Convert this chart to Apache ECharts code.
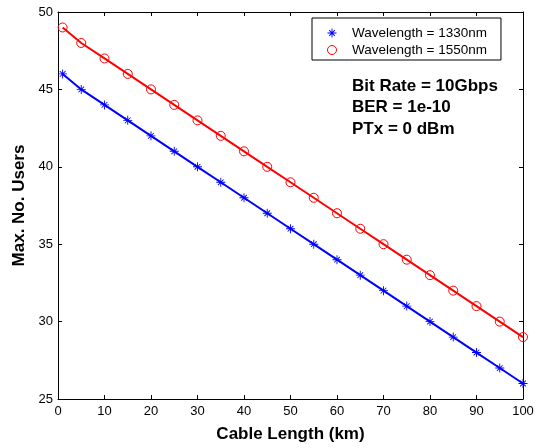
<!DOCTYPE html>
<html>
<head>
<meta charset="utf-8">
<script src="https://cdn.jsdelivr.net/npm/echarts@6/dist/echarts.min.js"></script>
<style>html,body{margin:0;padding:0;background:#fff;}#c{width:537px;height:448px;}</style>
</head>
<body>
<div id="c"></div>
<script>
var cableLength = [1, 5, 10, 15, 20, 25, 30, 35, 40, 45, 50, 55, 60, 65, 70, 75, 80, 85, 90, 95, 100];
var users1330 = [46, 45, 44, 43, 42, 41, 40, 39, 38, 37, 36, 35, 34, 33, 32, 31, 30, 29, 28, 27, 26];
var users1550 = [49, 48, 47, 46, 45, 44, 43, 42, 41, 40, 39, 38, 37, 36, 35, 34, 33, 32, 31, 30, 29];
var seriesNames = ['Wavelength = 1330nm', 'Wavelength = 1550nm'];
var annotationLines = ['Bit Rate = 10Gbps', 'BER = 1e-10', 'PTx = 0 dBm'];
var xTitle = 'Cable Length (km)';
var yTitle = 'Max. No. Users';

var FONT = '"Liberation Sans", Arial, Helvetica, sans-serif';
var STAR = 'path://M4.5 0L5.5 0L5.5 10L4.5 10Z M0 4.5L10 4.5L10 5.5L0 5.5Z M1.5 2.2L2.2 1.5L8.5 7.8L7.8 8.5Z M7.8 1.5L8.5 2.2L2.2 8.5L1.5 7.8Z';

function pairs(xs, ys) { return xs.map(function (x, i) { return [x, ys[i]]; }); }

var chart = echarts.init(document.getElementById('c'), null, { renderer: 'canvas' });
var axisCommon = {
  axisLine: { show: true, onZero: false, lineStyle: { color: '#000', width: 1 } },
  axisTick: { show: true, inside: true, length: 4, lineStyle: { color: '#000' } },
  splitLine: { show: false }
};
chart.setOption({
  animation: false,
  backgroundColor: '#fff',
  grid: { left: 58, right: 14, top: 12, bottom: 48, containLabel: false },
  xAxis: [
    Object.assign({
      type: 'value', min: 0, max: 100, interval: 10, position: 'bottom',
      name: xTitle, nameLocation: 'middle', nameGap: 27,
      nameTextStyle: { fontFamily: FONT, fontWeight: 'bold', fontSize: 17, color: '#000' },
      axisLabel: { fontFamily: FONT, fontSize: 13, color: '#000', margin: 6 }
    }, axisCommon),
    Object.assign({
      type: 'value', min: 0, max: 100, interval: 10, position: 'top',
      axisLabel: { show: false }
    }, axisCommon)
  ],
  yAxis: [
    Object.assign({
      type: 'value', min: 25, max: 50, interval: 5, position: 'left',
      name: yTitle, nameLocation: 'middle', nameGap: 28,
      nameTextStyle: { fontFamily: FONT, fontWeight: 'bold', fontSize: 17, color: '#000' },
      axisLabel: { fontFamily: FONT, fontSize: 13, color: '#000', margin: 5 }
    }, axisCommon),
    Object.assign({
      type: 'value', min: 25, max: 50, interval: 5, position: 'right',
      axisLabel: { show: false }
    }, axisCommon)
  ],
  legend: {
    orient: 'vertical', left: 312, top: 18,
    backgroundColor: '#fff', borderColor: '#000', borderWidth: 1,
    padding: [8, 14, 3, 15],
    itemWidth: 30, itemHeight: 9, itemGap: 3,
    textStyle: { fontFamily: FONT, fontSize: 13.5, color: '#000', lineHeight: 14 },
    data: [
      { name: seriesNames[0], icon: STAR, itemStyle: { color: '#0000ff', borderWidth: 0 } },
      { name: seriesNames[1], icon: 'circle', itemStyle: { color: '#fff', borderColor: '#ff0000', borderWidth: 1 } }
    ]
  },
  graphic: [{
    type: 'text', left: 352, top: 75,
    style: { text: annotationLines.join('\n'), font: 'bold 17px ' + FONT, fill: '#000', lineHeight: 21.7 }
  }],
  series: [
    {
      name: seriesNames[0], type: 'line', data: pairs(cableLength, users1330),
      symbol: STAR, symbolSize: 9, showAllSymbol: true,
      lineStyle: { color: '#0000ff', width: 2 },
      itemStyle: { color: '#0000ff' }
    },
    {
      name: seriesNames[1], type: 'line', data: pairs(cableLength, users1550),
      symbol: 'circle', symbolSize: 9, showAllSymbol: true,
      lineStyle: { color: '#ff0000', width: 2 },
      itemStyle: { color: 'rgba(0,0,0,0)', borderColor: '#ff0000', borderWidth: 1 }
    }
  ]
});
</script>
</body>
</html>
